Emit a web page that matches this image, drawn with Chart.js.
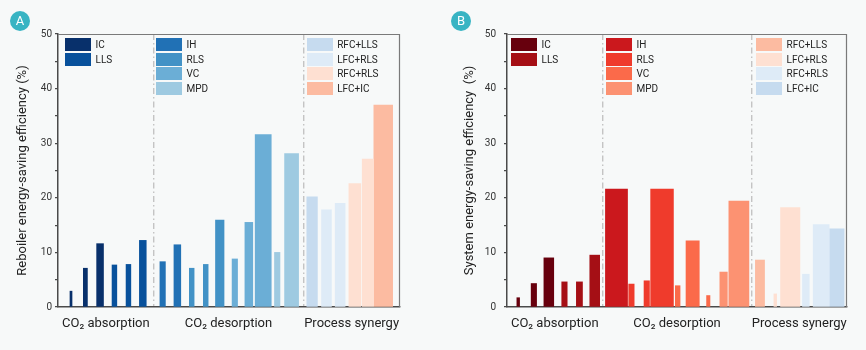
<!DOCTYPE html>
<html>
<head>
<meta charset="utf-8">
<script src="https://cdn.jsdelivr.net/npm/chart.js@4.4.0/dist/chart.umd.min.js"></script>
<style>
  body { margin: 0; background: #f7f9f9; font-family: Roboto, sans-serif; }
  #wrap { position: relative; width: 866px; height: 350px; overflow: hidden; }
  canvas { position: absolute; top: 0; }
  .badge { position: absolute; top: 11px; width: 20px; height: 20px; border-radius: 50%;
           background: #38b4c3; color: #fff; font-size: 13px; line-height: 20px; text-align: center; }
  .box { position: absolute; width: 26px; height: 13px; box-sizing: border-box; }
  .txt { position: absolute; font-size: 10px; line-height: 13px; color: #222; white-space: nowrap; }
</style>
</head>
<body>
<div id="wrap">
  <canvas id="chartA" width="433" height="350" style="left:0"></canvas>
  <canvas id="chartB" width="433" height="350" style="left:433px"></canvas>
  <div class="badge" style="left:10px">A</div>
  <div class="badge" style="left:451px">B</div>
</div>
<script>
// categories
const groups = ['CO₂ absorption', 'CO₂ desorption', 'Process synergy'];
const methods = ['IC', 'LLS', 'IH', 'RLS', 'VC', 'MPD', 'RFC+LLS', 'LFC+RLS', 'RFC+RLS', 'LFC+IC'];
const methodsB = ['IC', 'LLS', 'IH', 'RLS', 'VC', 'MPD', 'RFC+LLS', 'LFC+RLS', 'RFC+RLS', 'LFC+IC'];

// panel A: reboiler energy-saving efficiency (%)
const colorsA = ['#08306b', '#08519c', '#2171b5', '#4292c6', '#6baed6', '#9ecae1', '#c6dbef', '#deebf7', '#fee0d2', '#fcbba1'];
const barMethodA = [0, 0, 0, 1, 1, 1, 2, 2, 3, 3, 3, 4, 4, 4, 5, 5, 6, 7, 7, 8, 8, 9];
const barPosA = [3.8, 8.0, 12.3, 16.5, 20.6, 24.8, 30.6, 34.9, 39.1, 43.2, 47.3, 51.7, 55.8, 60.0, 64.1, 68.3, 74.3, 78.5, 82.5, 86.8, 90.6, 95.1];
const barSpanA = [0.6, 1.2, 2.0, 1.4, 1.4, 2.0, 1.6, 2.0, 1.4, 1.4, 2.5, 1.6, 2.3, 4.7, 1.6, 4.1, 3.1, 2.9, 2.9, 3.5, 3.3, 5.5];
const valuesA = [2.9, 7.1, 11.6, 7.7, 7.8, 12.2, 8.3, 11.4, 7.1, 7.8, 15.9, 8.8, 15.5, 31.6, 10.0, 28.1, 20.2, 17.8, 19.0, 22.6, 27.1, 37.0];
const dividersA = [28.0, 71.7];

// panel B: system energy-saving efficiency (%)
const colorsB = ['#67000d', '#a50f15', '#cb181d', '#ef3b2c', '#fb6a4a', '#fc9272', '#fcbba1', '#fee0d2', '#deebf7', '#c6dbef'];
const barMethodB = [0, 0, 0, 1, 1, 1, 2, 3, 3, 3, 4, 4, 4, 5, 5, 6, 7, 7, 8, 8, 9];
const barPosB = [3.3, 7.9, 12.3, 16.9, 21.3, 25.8, 32.2, 36.6, 41.1, 45.6, 50.2, 54.6, 59.2, 63.7, 68.2, 74.4, 78.9, 83.3, 87.9, 92.4, 97.0];
const barSpanB = [0.8, 1.6, 2.9, 1.6, 1.8, 2.9, 6.5, 1.6, 1.6, 6.7, 1.4, 3.9, 1.0, 2.2, 5.9, 2.7, 0.8, 5.7, 2.0, 4.7, 4.3];
const valuesB = [1.7, 4.3, 9.0, 4.6, 4.6, 9.5, 21.6, 4.2, 4.8, 21.6, 3.9, 12.1, 2.1, 6.4, 19.4, 8.6, 2.4, 18.2, 6.0, 15.1, 14.3];
const dividersB = [28.1, 71.9];

const yTicks = [0, 10, 20, 30, 40, 50];

Chart.defaults.font.family = 'Roboto, sans-serif';

// top and right edges of the plot box
const frame = {
  id: 'frame',
  afterDraw(c) {
    const a = c.chartArea, g = c.ctx;
    g.save();
    g.strokeStyle = '#7a7a7a';
    g.lineWidth = 1.2;
    g.beginPath();
    g.moveTo(a.left, a.top + 0.5);
    g.lineTo(a.right - 0.5, a.top + 0.5);
    g.lineTo(a.right - 0.5, a.bottom);
    g.stroke();
    g.restore();
  }
};

function makeChart(id, o) {
  const datasets = o.values.map((v, i) => ({
    label: o.names[o.method[i]],
    data: [{ x: o.pos[i], y: v }],
    backgroundColor: o.colors[o.method[i]],
    borderColor: o.colors[o.method[i]] + '99',
    borderWidth: 0,
    borderSkipped: 'bottom',
    grouped: false,
    barThickness: 1
  }));

  // group labels between dividers, divider lines drawn as grid
  const edges = [0, ...o.dividers, 100];
  const tickVals = [], tickLabels = [];
  groups.forEach((g, i) => {
    tickVals.push((edges[i] + edges[i + 1]) / 2); tickLabels.push(g);
    if (i < o.dividers.length) { tickVals.push(o.dividers[i]); tickLabels.push(''); }
  });

  const chart = new Chart(document.getElementById(id), {
    type: 'bar',
    data: { datasets },
    options: {
      responsive: false,
      animation: false,
      layout: { padding: { top: 34, right: o.padRight, bottom: 0, left: 0 } },
      plugins: { legend: { display: false }, tooltip: { enabled: false } },
      scales: {
        x: {
          type: 'linear', min: 0, max: 100, offset: false,
          afterBuildTicks: s => { s.ticks = tickVals.map(v => ({ value: v })); },
          afterFit: s => { s.height = 43; },
          grid: {
            offset: false, drawTicks: false, lineWidth: 1.4,
            color: c => (c.tick && o.dividers.includes(c.tick.value)) ? '#c4c4c4' : 'rgba(0,0,0,0)',
            borderDash: [6, 3, 1.5, 3]
          },
          border: { color: '#4a4a4a', width: 1.5, dash: [6, 3, 1.5, 3] },
          ticks: {
            autoSkip: false, maxRotation: 0, minRotation: 0, padding: 9,
            color: '#222', font: { size: 13 },
            callback: (v, i) => tickLabels[i]
          }
        },
        y: {
          min: 0, max: 50,
          afterFit: s => { s.width = o.axisWidth; },
          ticks: {
            stepSize: 5, padding: o.tickPad, color: '#333', font: { size: 10 },
            callback: v => yTicks.includes(v) ? v : ''
          },
          grid: { drawOnChartArea: false, tickLength: 3, tickColor: '#4a4a4a', lineWidth: 1.2 },
          border: { color: '#4a4a4a', width: 1.5 },
          title: { display: true, text: o.title, color: '#222', font: { size: 13 }, padding: { top: o.titlePad, bottom: 0 } }
        }
      }
    },
    plugins: [frame]
  });

  // bar widths follow the x scale
  const xs = chart.scales.x;
  chart.data.datasets.forEach((ds, i) => {
    const w = xs.getPixelForValue(o.span[i]) - xs.getPixelForValue(0);
    ds.barThickness = w;
    ds.borderWidth = w > 4 ? { top: 1, left: 1, right: 1, bottom: 0 } : 0;
  });
  chart.update('none');
  return chart;
}

function makeLegend(names, colors, cols, rowTop) {
  const wrap = document.getElementById('wrap');
  let k = 0;
  cols.forEach(col => {
    for (let r = 0; r < col.n; r++, k++) {
      const y = rowTop + r * 14.6;
      const b = document.createElement('div');
      b.className = 'box';
      b.style.left = col.x + 'px';
      b.style.top = y + 'px';
      b.style.background = colors[k];
      b.style.border = '1px solid ' + colors[k] + '99';
      wrap.appendChild(b);
      const t = document.createElement('div');
      t.className = 'txt';
      t.style.left = (col.x + 30.5) + 'px';
      t.style.top = y + 'px';
      t.textContent = names[k];
      wrap.appendChild(t);
    }
  });
}

makeChart('chartA', {
  values: valuesA, pos: barPosA, span: barSpanA, method: barMethodA, colors: colorsA, names: methods,
  dividers: dividersA, padRight: 33, axisWidth: 58, tickPad: 3, titlePad: 15,
  title: 'Reboiler energy-saving efficiency (%)'
});
makeChart('chartB', {
  values: valuesB, pos: barPosB, span: barSpanB, method: barMethodB, colors: colorsB, names: methodsB,
  dividers: dividersB, padRight: 19, axisWidth: 74, tickPad: 8, titlePad: 29,
  title: 'System energy-saving efficiency  (%)'
});

makeLegend(methods, colorsA, [{ x: 65, n: 2 }, { x: 156, n: 4 }, { x: 306.7, n: 4 }], 38);
makeLegend(methodsB, colorsB, [{ x: 511, n: 2 }, { x: 606, n: 4 }, { x: 756, n: 4 }], 38);
</script>
</body>
</html>
